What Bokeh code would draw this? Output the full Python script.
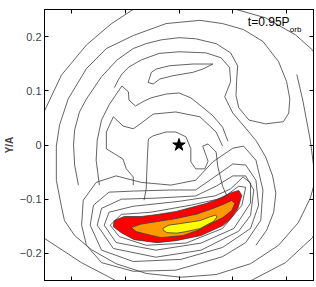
from bokeh.plotting import figure
from bokeh.models import LinearAxis, Label, FixedTicker
from bokeh.embed import file_html
from bokeh.resources import INLINE

ticks = [-0.2, -0.1, 0, 0.1, 0.2]
tick_labels = ["\u22120.2", "\u22120.1", "0", "0.1", "0.2"]

# outermost contour (leaves and re-enters the frame)
o1_x = [-0.252, -0.2185, -0.172, -0.126, -0.0833, 0.0037, 0.1019, 0.161, 0.2167, 0.248, 0.2815, 0.296, 0.2815, 0.248, 0.198, 0.133, 0.0037, -0.1167, -0.1815, -0.252, -0.27, -0.252]
o1_y = [0.0587, 0.129, 0.1846, 0.2235, 0.2513, 0.268, 0.2513, 0.2346, 0.2031, 0.1754, 0.1198, -0.0098, -0.1024, -0.171, -0.217, -0.2506, -0.2728, -0.2506, -0.217, -0.171, -0.065, 0.0587]

# folded contour: left side, top, right lobe, back along the inside
fold_x = [-0.219, -0.228, -0.228, -0.222, -0.206, -0.172, -0.135, -0.085, -0.024, 0.039, 0.081, 0.120, 0.156, 0.185, 0.200, 0.206, 0.204, 0.194, 0.161,
          0.130, 0.111, 0.106, 0.107, 0.109, 0.096, 0.069, 0.031, 0.0, -0.033, -0.061, -0.085, -0.115, -0.144, -0.172, -0.185, -0.194, -0.196, -0.194, -0.187]
fold_y = [-0.111, -0.065, -0.002, 0.037, 0.085, 0.141, 0.178, 0.202, 0.224, 0.230, 0.224, 0.213, 0.191, 0.154, 0.117, 0.085, 0.059, 0.043, 0.039,
          0.046, 0.069, 0.091, 0.117, 0.146, 0.170, 0.187, 0.196, 0.198, 0.194, 0.187, 0.178, 0.157, 0.126, 0.085, 0.061, 0.028, 0.0, -0.037, -0.074]

bottom_x = [-0.219, -0.213, -0.194, -0.163, -0.117, -0.061, 0.004, 0.069, 0.133, 0.185, 0.222, 0.244, 0.256]
bottom_y = [-0.111, -0.139, -0.167, -0.193, -0.219, -0.237, -0.244, -0.239, -0.219, -0.185, -0.143, -0.098, -0.056]

right_x = [0.219, 0.230, 0.237, 0.244, 0.250, 0.256]
right_y = [0.130, 0.083, 0.046, 0.009, -0.037, -0.06]

# wavy contour over the tongue, running down the right-hand side
wave_x = [-0.120, -0.113, -0.106, -0.093, -0.070, -0.037, 0.0, 0.050, 0.078, 0.094, 0.096, 0.085, 0.100, 0.124, 0.144, 0.161, 0.174, 0.180, 0.176, 0.163, 0.143]
wave_y = [0.106, 0.120, 0.131, 0.144, 0.157, 0.169, 0.172, 0.170, 0.161, 0.143, 0.117, 0.089, 0.059, 0.031, 0.007, -0.022, -0.057, -0.089, -0.124, -0.157, -0.185]

tongue_x = [-0.0574, -0.0513, -0.0420, -0.0172, 0.0259, 0.0630, 0.0444, 0.0259, -0.0111, -0.0357, -0.0481, -0.0574]
tongue_y = [0.1156, 0.1341, 0.1402, 0.1463, 0.1494, 0.1494, 0.1402, 0.1341, 0.1278, 0.1217, 0.1124, 0.1156]

# contours around the star
s3_x = [-0.148, -0.154, -0.152, -0.144, -0.130, -0.115, -0.106, -0.094, -0.093, -0.081, -0.067, -0.052, -0.024, 0.0, 0.022, 0.041, 0.063, 0.081, 0.091]
s3_y = [-0.074, -0.028, 0.009, 0.046, 0.074, 0.096, 0.109, 0.098, 0.083, 0.072, 0.080, 0.087, 0.094, 0.096, 0.087, 0.072, 0.054, 0.033, 0.007]

s2_x = [-0.085, -0.085, -0.098, -0.104, -0.135, -0.135, -0.122, -0.104, -0.085, -0.072, -0.048, -0.006, 0.039, 0.069, 0.081]
s2_y = [-0.074, -0.059, -0.044, -0.026, -0.007, 0.024, 0.052, 0.035, 0.030, 0.039, 0.057, 0.061, 0.052, 0.024, -0.002]

s1_x = [-0.065, -0.061, -0.059, -0.057, -0.048, -0.024, -0.006, 0.013, 0.022, 0.022, 0.031, 0.048, 0.054, 0.048, 0.044, 0.054, 0.069, 0.072, 0.081, 0.089]
s1_y = [-0.102, -0.081, -0.028, 0.011, 0.017, 0.024, 0.024, 0.015, -0.007, -0.031, -0.044, -0.044, -0.030, -0.013, -0.002, 0.002, -0.013, -0.039, -0.076, -0.094]

# contours wrapped round the dense arc
w1_x = [-0.128, -0.107, -0.052, 0.022, 0.081, 0.111, 0.124, 0.117, 0.081, 0.013, -0.061, -0.111, -0.128]
w1_y = [-0.148, -0.128, -0.124, -0.111, -0.098, -0.076, -0.078, -0.111, -0.154, -0.181, -0.185, -0.169, -0.148]
w2_x = [-0.139, -0.130, -0.085, 0.0, 0.067, 0.096, 0.119, 0.133, 0.133, 0.102, 0.041, -0.043, -0.117, -0.139]
w2_y = [-0.148, -0.124, -0.113, -0.104, -0.094, -0.081, -0.059, -0.070, -0.107, -0.154, -0.181, -0.194, -0.180, -0.148]
w3_x = [-0.152, -0.144, -0.107, -0.043, 0.031, 0.069, 0.100, 0.124, 0.139, 0.133, 0.111, 0.041, -0.043, -0.122, -0.152]
w3_y = [-0.148, -0.117, -0.100, -0.098, -0.094, -0.076, -0.057, -0.057, -0.083, -0.130, -0.159, -0.194, -0.207, -0.191, -0.148]
w4_x = [-0.165, -0.159, -0.130, -0.085, -0.015, 0.031, 0.063, 0.100, 0.124, 0.143, 0.148, 0.133, 0.081, 0.004, -0.085, -0.144, -0.165]
w4_y = [-0.148, -0.111, -0.087, -0.085, -0.083, -0.083, -0.061, -0.035, -0.037, -0.065, -0.111, -0.154, -0.189, -0.211, -0.215, -0.194, -0.148]
w5_x = [-0.181, -0.178, -0.154, -0.117, -0.070, -0.015, 0.031, 0.063, 0.100, 0.120, 0.143, 0.156, 0.152, 0.124, 0.081, -0.006, -0.085, -0.144, -0.172, -0.181]
w5_y = [-0.148, -0.102, -0.069, -0.057, -0.069, -0.074, -0.065, -0.031, -0.006, -0.002, -0.028, -0.083, -0.139, -0.180, -0.206, -0.231, -0.233, -0.217, -0.185, -0.148]

red_x = [-0.1222, -0.1204, -0.1019, -0.0704, -0.0407, -0.0056, 0.0222, 0.05, 0.0704, 0.0981, 0.1111, 0.1167, 0.1093, 0.0963, 0.0815, 0.0407, -0.0056, -0.0407, -0.0833, -0.1074]
red_y = [-0.1506, -0.1394, -0.1320, -0.1320, -0.1283, -0.1228, -0.1154, -0.1080, -0.1006, -0.0876, -0.0839, -0.0931, -0.1172, -0.1357, -0.1487, -0.1672, -0.1765, -0.1802, -0.1746, -0.1617]

orange_x = [-0.0889, -0.0704, -0.0407, -0.0056, 0.0333, 0.0630, 0.0815, 0.0981, 0.1037, 0.0981, 0.0815, 0.0593, 0.0333, 0.0074, -0.0333, -0.0574, -0.0796]
orange_y = [-0.1524, -0.1459, -0.1413, -0.1357, -0.1274, -0.1172, -0.1098, -0.1024, -0.1080, -0.1209, -0.1339, -0.1450, -0.1580, -0.1672, -0.1709, -0.1654, -0.1598]

yellow_x = [-0.0296, -0.0185, -0.0037, 0.0389, 0.0593, 0.0685, 0.0704, 0.0648, 0.0389, 0.0130, -0.0037, -0.0222, -0.0296]
yellow_y = [-0.1533, -0.1478, -0.1459, -0.1394, -0.1320, -0.1293, -0.1330, -0.1404, -0.1543, -0.1598, -0.1626, -0.1617, -0.1570]

star_x = [0.0]
star_y = [0.0]

p = figure(width=316, height=287, x_range=(-0.25, 0.25), y_range=(-0.25, 0.25),
           output_backend="svg", toolbar_location=None,
           min_border_left=42, min_border_right=3, min_border_top=9, min_border_bottom=7)
p.xgrid.visible = False
p.ygrid.visible = False
p.outline_line_color = "black"
p.background_fill_color = "white"
p.border_fill_color = "white"

LINE = "#3c3c3c"
LW = 0.8
for xs, ys, col in [(red_x, red_y, "#ff0000"), (orange_x, orange_y, "#ff9900"), (yellow_x, yellow_y, "#ffff00")]:
    p.patch(xs, ys, fill_color=col, line_color=LINE, line_width=LW)

for xs, ys in [(o1_x, o1_y), (fold_x, fold_y), (bottom_x, bottom_y), (right_x, right_y),
               (wave_x, wave_y), (tongue_x, tongue_y), (s1_x, s1_y), (s2_x, s2_y), (s3_x, s3_y),
               (w1_x, w1_y), (w2_x, w2_y), (w3_x, w3_y), (w4_x, w4_y), (w5_x, w5_y)]:
    p.line(xs, ys, line_color=LINE, line_width=LW)

p.scatter(star_x, star_y, marker="star", size=13, fill_color="black", line_color="black")

ax = p.yaxis[0]
ax.ticker = FixedTicker(ticks=ticks)
ax.major_label_overrides = {t: l for t, l in zip(ticks, tick_labels)}
ax.axis_label = "Y/A"
ax.axis_label_text_font = "Liberation Sans"
ax.axis_label_text_font_style = "bold"
ax.axis_label_text_font_size = "10px"
ax.axis_label_standoff = 2
ax.major_label_text_font = "Liberation Sans"
ax.major_label_text_font_size = "11px"
ax.major_label_standoff = 3

xa = p.xaxis[0]
xa.ticker = FixedTicker(ticks=ticks)
xa.major_label_text_font_size = "1px"
xa.major_label_text_color = None
xa.major_label_standoff = 0

for loc in ["above", "right"]:
    a = LinearAxis(ticker=FixedTicker(ticks=ticks), major_label_text_font_size="1px",
                   major_label_text_color=None, major_label_standoff=0)
    p.add_layout(a, loc)

for a in p.axis:
    a.major_tick_in = 4
    a.major_tick_out = 0
    a.minor_tick_in = 0
    a.minor_tick_out = 0
    a.axis_line_color = "black"
    a.major_tick_line_color = "black"

p.add_layout(Label(x=0.128, y=0.214, text="t=0.95P", text_font="Liberation Sans", text_font_size="12px", text_color="black"))
p.add_layout(Label(x=0.206, y=0.205, text="orb", text_font="Liberation Sans", text_font_size="8px", text_color="black"))

open("out.html", "w").write(file_html(p, INLINE))
